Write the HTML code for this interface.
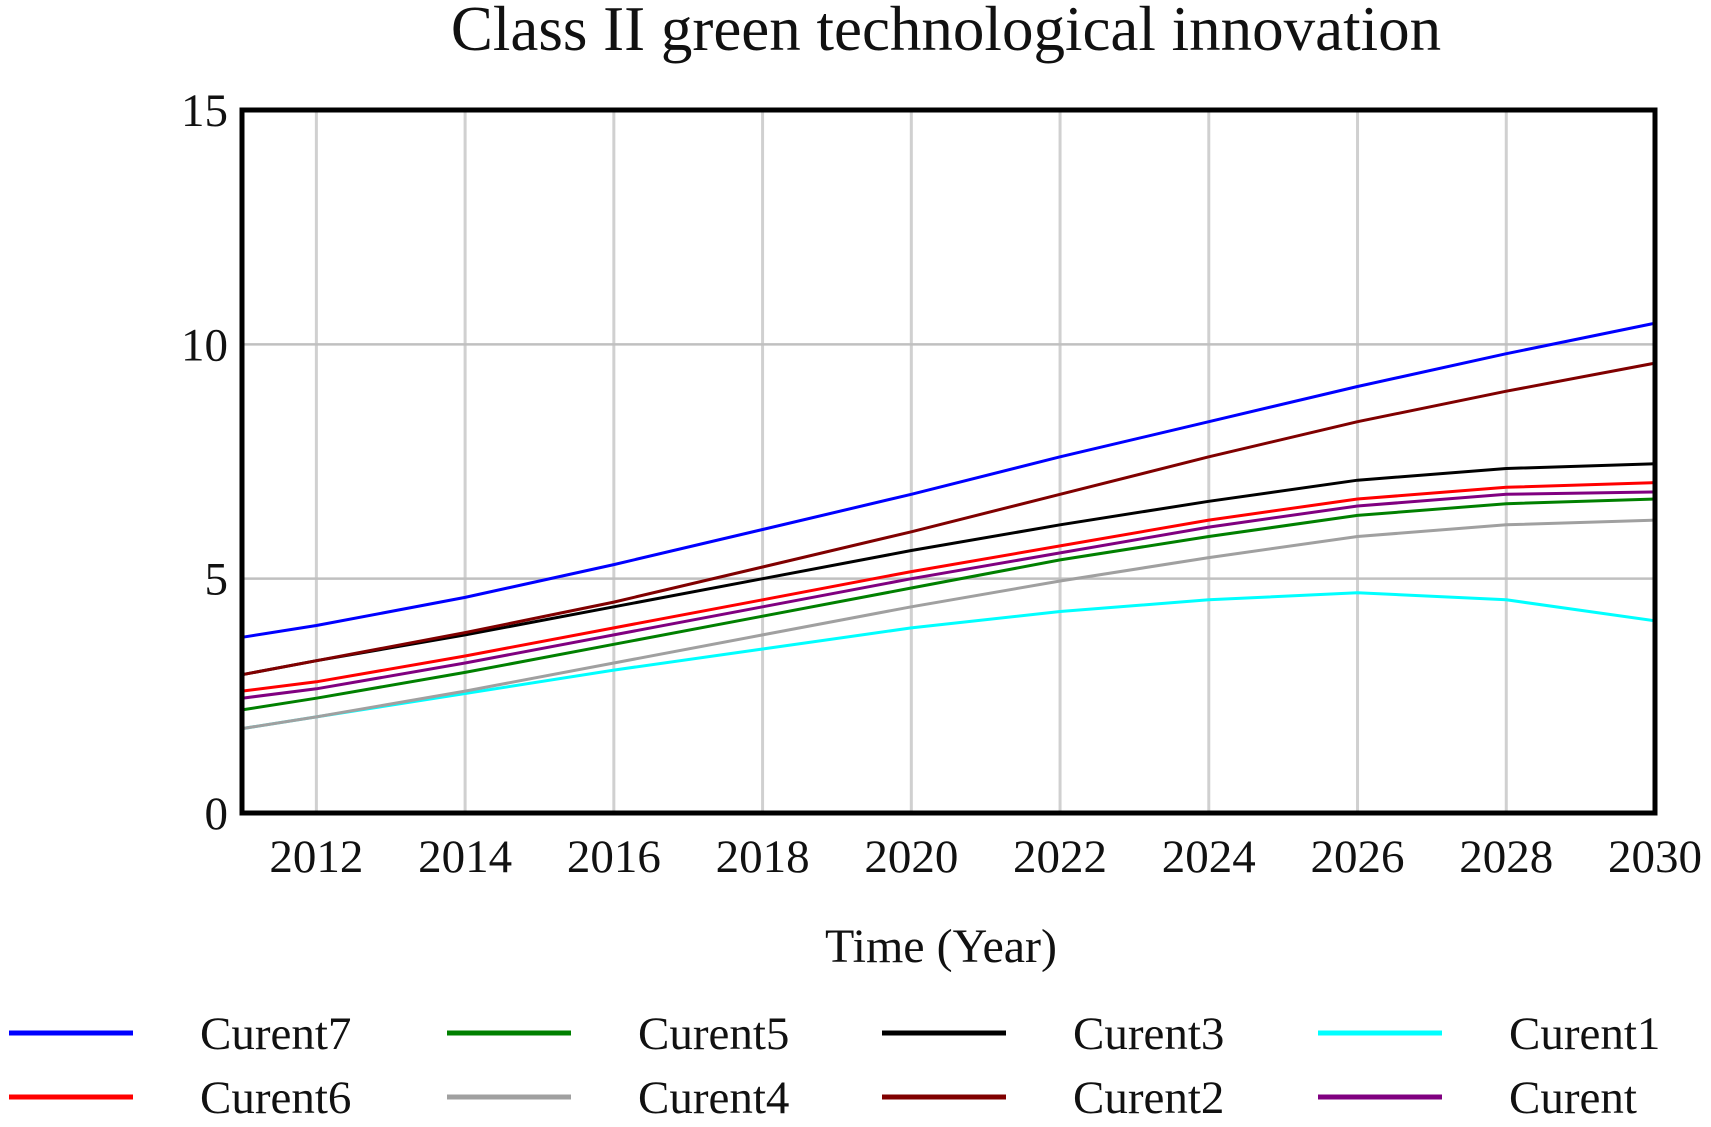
<!DOCTYPE html>
<html><head><meta charset="utf-8"><style>
html,body{margin:0;padding:0;background:#fff;}
svg text{font-family:"Liberation Serif",serif;fill:#111;}
</style></head><body>
<svg id="chart" width="1711" height="1122" xmlns="http://www.w3.org/2000/svg">
<text x="946" y="50" font-size="63" text-anchor="middle">Class II green technological innovation</text>
<g id="grid"></g><g id="series"></g>
<rect x="242" y="110" width="1413" height="703" fill="none" stroke="#000" stroke-width="5"/>
<g id="ticks"></g>
<text x="941" y="962" font-size="48" text-anchor="middle">Time (Year)</text>
<g id="legend"></g>
</svg>
<script>
const years=[2011,2012,2014,2016,2018,2020,2022,2024,2026,2028,2030];
const xTicks=[2012,2014,2016,2018,2020,2022,2024,2026,2028,2030];
const yTicks=[0,5,10,15];
const seriesNames=["Curent7","Curent6","Curent5","Curent4","Curent3","Curent2","Curent1","Curent"];
const curent7=[3.75,4.0,4.6,5.3,6.05,6.8,7.6,8.35,9.1,9.8,10.45];
const curent6=[2.6,2.8,3.35,3.95,4.55,5.15,5.7,6.25,6.7,6.95,7.05];
const curent5=[2.2,2.45,3.0,3.6,4.2,4.8,5.4,5.9,6.35,6.6,6.7];
const curent4=[1.8,2.05,2.6,3.2,3.8,4.4,4.95,5.45,5.9,6.15,6.25];
const curent3=[2.95,3.25,3.8,4.4,5.0,5.6,6.15,6.65,7.1,7.35,7.45];
const curent2=[2.95,3.25,3.85,4.5,5.25,6.0,6.8,7.6,8.35,9.0,9.6];
const curent1=[1.8,2.05,2.55,3.05,3.5,3.95,4.3,4.55,4.7,4.55,4.1];
const curent0=[2.45,2.65,3.2,3.8,4.4,5.0,5.55,6.1,6.55,6.8,6.85];
const colors={Curent7:"#0000ff",Curent6:"#ff0000",Curent5:"#008000",Curent4:"#a0a0a0",Curent3:"#000000",Curent2:"#800000",Curent1:"#00ffff",Curent:"#800080"};
const values={Curent7:curent7,Curent6:curent6,Curent5:curent5,Curent4:curent4,Curent3:curent3,Curent2:curent2,Curent1:curent1,Curent:curent0};
const X=y=>242+(y-2011)/(2030-2011)*1413;
const Y=v=>813-v/15*703;
const NS="http://www.w3.org/2000/svg";
function mk(tag,attrs,parent){const e=document.createElementNS(NS,tag);for(const k in attrs)e.setAttribute(k,attrs[k]);parent.appendChild(e);return e;}
const grid=document.getElementById('grid'),ticks=document.getElementById('ticks');
xTicks.forEach(t=>{
  const l=mk('line',{x1:X(t),x2:X(t),y1:110,y2:813,stroke:"#d0d0d0","stroke-width":3},grid);
  
  
  const tx=mk('text',{x:X(t),y:872,"font-size":47,"text-anchor":"middle"},ticks);tx.textContent=t;
  
  
});
yTicks.forEach(t=>{
  if(t>0&&t<15){const l=mk('line',{x1:242,x2:1655,y1:Y(t),y2:Y(t),stroke:"#c0c0c0","stroke-width":2.5},grid);
  
  }
  const tx=mk('text',{x:228,y:Y(t)+16,"font-size":47,"text-anchor":"end"},ticks);tx.textContent=t;
  
  
});
const ser=document.getElementById('series');
const drawOrder=["Curent1","Curent4","Curent5","Curent","Curent6","Curent3","Curent2","Curent7"];
drawOrder.forEach(n=>{
  const d=values[n].map((v,i)=>(i?'L':'M')+X(years[i]).toFixed(1)+' '+Y(v).toFixed(1)).join(' ');
  const p=mk('path',{d:d,fill:"none",stroke:colors[n],"stroke-width":3},ser);
  
  
});
const leg=document.getElementById('legend');
const legOrder=[["Curent7","Curent5","Curent3","Curent1"],["Curent6","Curent4","Curent2","Curent"]];
const colX=[9,447,882,1318];
legOrder.forEach((row,r)=>row.forEach((n,c)=>{
  const y=1033+r*64;
  const g=mk('g',{},leg);
  
  
  mk('line',{x1:colX[c],x2:colX[c]+124,y1:y,y2:y,stroke:colors[n],"stroke-width":5},g);
  const t=mk('text',{x:colX[c]+191,y:y+16,"font-size":47},g);t.textContent=n;
}));
</script>
</body></html>
